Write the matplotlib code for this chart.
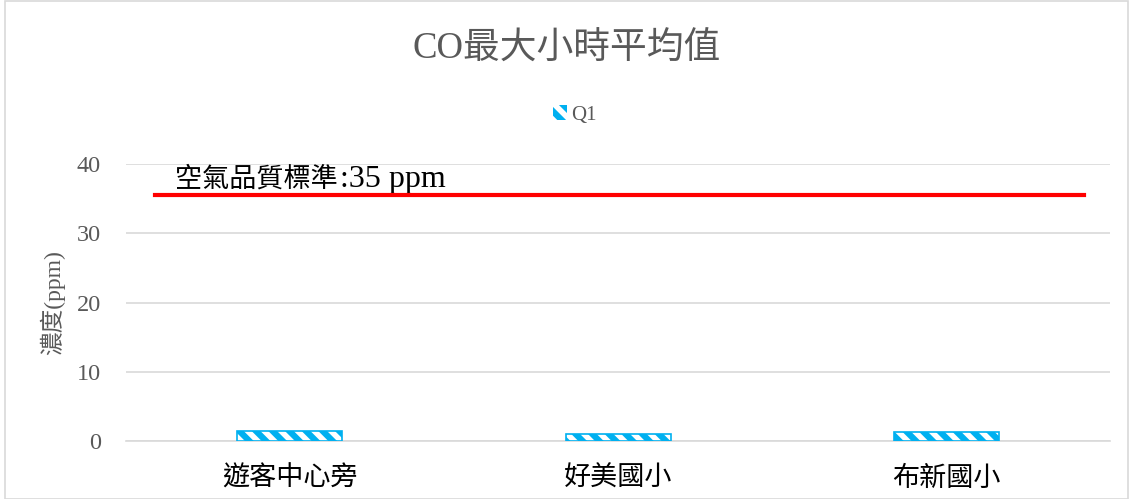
import matplotlib.pyplot as plt
from matplotlib.patches import Rectangle

# data
stations = ["遊客中心旁", "好美國小", "布新國小"]
q1_values = [1.5, 1.0, 1.3]
standard_value = 35.5
standard_name = "空氣品質標準"
standard_unit = ":35 ppm"
y_ticks = [0, 10, 20, 30, 40]

SERIF = ["Liberation Serif", "Noto Sans CJK TC"]
CJK = ["Noto Sans CJK TC", "Liberation Serif"]
BLUE = "#00B0F0"
GRAY = "#595959"

fig = plt.figure(figsize=(11.34, 4.99), dpi=100)
ax = fig.add_axes([0.111, 0.116, 0.868, 0.555])

x = list(range(len(stations)))
# hatched bars: blue fill, white diagonal stripes, blue outline
plt.rcParams["hatch.linewidth"] = 4
ax.bar(x, q1_values, width=0.32, color=BLUE, edgecolor="white", hatch="\\\\", linewidth=0, zorder=3)
ax.bar(x, q1_values, width=0.32, facecolor="none", edgecolor=BLUE, linewidth=1.2, zorder=4)

ax.set_xlim(-0.5, 2.5)
ax.set_ylim(0, 40)

# standard line + label (CJK part and serif part share one baseline)
ax.plot([-0.41, 2.42], [standard_value, standard_value], color="#FF0000", linewidth=3, zorder=5)
t1 = ax.text(0.05, 36.7, standard_name, transform=ax.get_yaxis_transform(), fontsize=19.5,
             family=CJK, color="black", va="baseline", ha="left")
fig.canvas.draw()
bb = t1.get_window_extent()
x_end = ax.transAxes.inverted().transform((bb.x1, bb.y0))[0]
ax.text(x_end + 0.002, 36.7, standard_unit, transform=ax.get_yaxis_transform(), fontsize=23,
        family=SERIF, color="black", va="baseline", ha="left")

ax.set_yticks(y_ticks)
ax.set_yticklabels([str(v) for v in y_ticks], family=SERIF, fontsize=17.5, color=GRAY)
ax.set_xticks(x)
ax.set_xticklabels(stations, family=CJK, fontsize=19.5, color="black")
ax.tick_params(axis="both", length=0)
ax.tick_params(axis="x", pad=17)
ax.tick_params(axis="y", pad=18)
ax.grid(axis="y", color="#D9D9D9", linewidth=1.2, zorder=0)
ax.set_axisbelow(True)
for side in ["top", "right", "left"]:
    ax.spines[side].set_visible(False)
ax.spines["bottom"].set_color("#D9D9D9")
ax.spines["bottom"].set_linewidth(1.2)

ax.set_ylabel("濃度(ppm)", family=SERIF, fontsize=17, color=GRAY, labelpad=8)

fig.text(0.5, 0.90, "CO最大小時平均值", ha="center", va="center", fontsize=26.5,
         family=SERIF, color=GRAY)

# legend
leg_patch = Rectangle((0, 0), 1, 1, facecolor=BLUE, edgecolor="white", hatch="\\\\", linewidth=0)
leg = fig.legend([leg_patch], ["Q1"], loc="center", bbox_to_anchor=(0.507, 0.77),
                 frameon=False, handlelength=0.7, handleheight=0.7, handletextpad=0.2,
                 prop={"family": SERIF, "size": 15})
for t in leg.get_texts():
    t.set_color(GRAY)

# outer chart border
fig.patches.append(Rectangle((0.004, 0.0), 0.991, 0.998, transform=fig.transFigure,
                             fill=False, edgecolor="#D9D9D9", linewidth=1.2))

fig.savefig("out.png", dpi=100)
